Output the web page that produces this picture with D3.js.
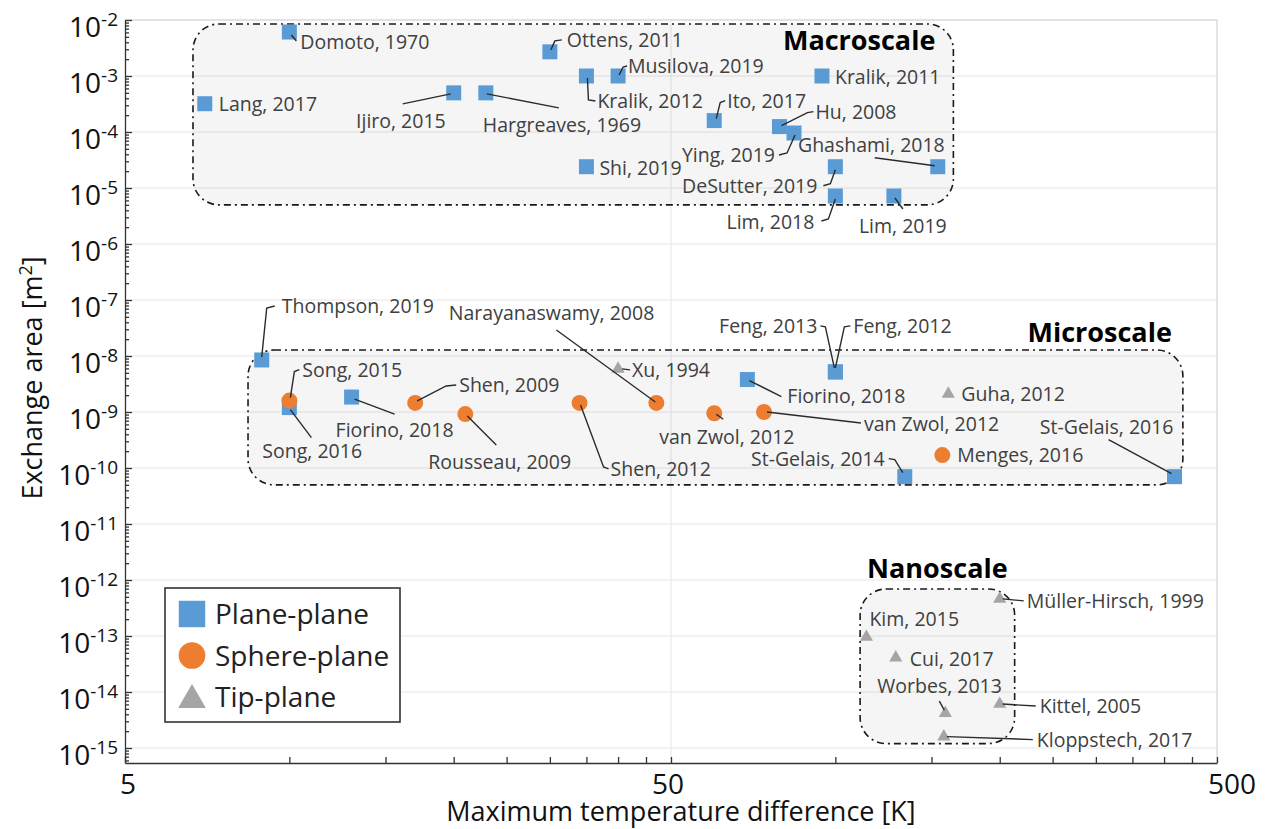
<!DOCTYPE html>
<html>
<head>
<meta charset="utf-8">
<script src="https://cdn.jsdelivr.net/npm/d3@7"></script>
<style>
  body { margin: 0; background: #fff; }
  svg { font-family: "Open Sans", sans-serif; }
</style>
</head>
<body>
<div class="container"></div>
<script>
const w = 1270;
const h = 829;

// axis ticks
const xTickLabels = [5, 50, 500];
const xMinorTicks = [10, 15, 20, 25, 30, 35, 40, 45, 100, 150, 200, 250, 300, 350, 400, 450];
const yTickExps = [-2, -3, -4, -5, -6, -7, -8, -9, -10, -11, -12, -13, -14, -15];

// Plane-plane (squares)
const planeNames = ["Domoto, 1970", "Ottens, 2011", "Kralik, 2012", "Musilova, 2019", "Kralik, 2011",
  "Lang, 2017", "Ijiro, 2015", "Hargreaves, 1969", "Ito, 2017", "Hu, 2008", "Ying, 2019", "Shi, 2019",
  "DeSutter, 2019", "Ghashami, 2018", "Lim, 2018", "Lim, 2019",
  "Thompson, 2019", "Song, 2016", "Fiorino, 2018", "Fiorino, 2018", "Feng, 2013", "Feng, 2012",
  "St-Gelais, 2014", "St-Gelais, 2016"];
const planeDT = [10, 30, 35, 40, 94.5, 7, 20, 22.9, 60, 79, 84, 35, 100, 154, 100, 128,
  8.9, 10, 13, 69, 100, 100, 134, 418];
const planeArea = [6.1e-3, 2.7e-3, 1e-3, 1e-3, 1e-3, 3.2e-4, 5e-4, 5e-4, 1.6e-4, 1.25e-4, 9.6e-5, 2.4e-5,
  2.4e-5, 2.4e-5, 7.2e-6, 7.2e-6,
  8.5e-9, 1.2e-9, 1.85e-9, 3.8e-9, 5.2e-9, 5.2e-9, 7e-11, 7e-11];

// Sphere-plane (circles)
const sphereNames = ["Song, 2015", "Shen, 2009", "Rousseau, 2009", "Shen, 2012", "Narayanaswamy, 2008",
  "van Zwol, 2012", "van Zwol, 2012", "Menges, 2016"];
const sphereDT = [10, 17, 21, 34, 47, 60, 74, 157];
const sphereArea = [1.6e-9, 1.45e-9, 9.2e-10, 1.45e-9, 1.45e-9, 9.5e-10, 1e-9, 1.7e-10];

// Tip-plane (triangles)
const tipNames = ["Xu, 1994", "Guha, 2012", "Müller-Hirsch, 1999", "Kim, 2015", "Cui, 2017",
  "Worbes, 2013", "Kittel, 2005", "Kloppstech, 2017"];
const tipDT = [40, 161, 200, 114, 129, 159, 200, 158];
const tipArea = [5.9e-9, 2.1e-9, 4.6e-13, 9.6e-14, 4.1e-14, 4.2e-15, 6.1e-15, 1.6e-15];

// scale regions
const groupNames = ["Macroscale", "Microscale", "Nanoscale"];
const groupDT = [[6.66, 164.5], [8.4, 433], [111, 213]];
const groupArea = [[5e-6, 8.5e-3], [5e-11, 1.28e-8], [1.2e-15, 6.9e-13]];

// label placement: [dx, dy, anchor, leader points relative to marker]
const planeLabels = [
  [11, 10, "start", [[2, 3], [7, 9]]],
  [17, -12, "start", [[1, -2], [5, -11], [12, -12]]],
  [11, 25, "start", [[1, 2], [2, 24], [9, 25]]],
  [10, -10, "start", [[1, -1], [5, -9], [9, -10]]],
  [13, 1, "start", null],
  [14, 0, "start", null],
  [-8, 28, "end", [[-3, 1], [-51, 11]]],
  [-3, 32, "start", [[1, 1], [73, 15]]],
  [13, -20, "start", [[2, -2], [6, -18], [11, -20]]],
  [36, -15, "start", [[2, -1], [28, -14], [34, -15]]],
  [-19, 22, "end", [[1, 2], [-7, 20], [-15, 22]]],
  [13, 1, "start", null],
  [-18, 19, "end", [[0, 3], [-5, 17], [-12, 19]]],
  [7, -22, "end", [[-3, -1], [-63, -9]]],
  [-21, 26, "end", [[0, 3], [-7, 23], [-14, 25]]],
  [-35, 30, "start", [[1, 2], [9, 13]]],
  [20, -54, "start", [[0, -3], [5, -52], [13, -54]]],
  [-27, 43, "start", [[1, 2], [22, 30]]],
  [-16, 33, "start", [[3, 2], [43, 17]]],
  [40, 16, "start", [[2, 1], [34, 17]]],
  [-18, -46, "end", [[-1, -4], [-10, -45], [-15, -46]]],
  [18, -46, "start", [[0, -4], [9, -45], [15, -46]]],
  [-20, -18, "end", [[-2, -4], [-10, -17], [-16, -18]]],
  [-1, -50, "end", [[-3, -3], [-66, -37]]]
];
const sphereLabels = [
  [13, -31, "start", [[1, -3], [5, -29], [10, -31]]],
  [44, -18, "start", [[2, -2], [31, -17], [41, -18]]],
  [-37, 48, "start", [[2, 2], [31, 31]]],
  [31, 66, "start", [[1, 2], [24, 64], [29, 66]]],
  [-2, -90, "end", [[-1, -1], [-100, -73]]],
  [-55, 24, "start", [[2, 1], [9, 6]]],
  [100, 12, "start", [[3, 0], [97, 11]]],
  [15, 0, "start", null]
];
const tipLabels = [
  [14, 1, "start", [[4, 0], [12, 1]]],
  [13, 0, "start", null],
  [27, 2, "start", [[3, 0], [24, 2]]],
  [3, -18, "start", null],
  [14, 1, "start", null],
  [-68, -27, "start", [[-1, -3], [-6, -12]]],
  [40, 2, "start", [[3, 0], [36, 2]]],
  [93, 3, "start", [[3, 0], [89, 3]]]
];

const colors = { plane: "#5b9bd5", sphere: "#ed7d31", tip: "#a5a5a5" };

const x = d3.scaleLog().domain([5, 500]).range([125, 1217]);
const y = d3.scaleLog().domain([5.4e-16, 1e-2]).range([763, 20]);

const svg = d3.select('.container').append('svg')
  .attr('width', w)
  .attr('height', h);

// grid
const grid = svg.append('g').attr('class', 'grid');
grid.selectAll('line.h')
  .data(yTickExps.map(e => Math.pow(10, e)))
  .enter().append('line')
    .attr('x1', x.range()[0]).attr('x2', x.range()[1])
    .attr('y1', d => y(d)).attr('y2', d => y(d))
    .attr('stroke', '#e6e6e6').attr('stroke-width', 1);
grid.append('line')
  .attr('x1', x(50)).attr('x2', x(50))
  .attr('y1', y.range()[0]).attr('y2', y.range()[1])
  .attr('stroke', '#e6e6e6');
grid.append('path')
  .attr('d', `M${x.range()[0]},${y.range()[1]}H${x.range()[1]}V${y.range()[0]}`)
  .attr('fill', 'none').attr('stroke', '#d4d4d4').attr('stroke-width', 1.2);

// group boxes
const groups = groupNames.map((name, i) => ({ name, dt: groupDT[i], area: groupArea[i] }));
const gBox = svg.append('g').attr('class', 'groups');
gBox.selectAll('rect')
  .data(groups)
  .enter().append('rect')
    .attr('x', d => x(d.dt[0]))
    .attr('y', d => y(d.area[1]))
    .attr('width', d => x(d.dt[1]) - x(d.dt[0]))
    .attr('height', d => y(d.area[0]) - y(d.area[1]))
    .attr('rx', 26)
    .attr('fill', 'rgba(0,0,0,0.04)')
    .attr('stroke', '#1a1a1a')
    .attr('stroke-width', 1.6)
    .attr('stroke-dasharray', '7,4,2,4');

const groupTitleLayout = [
  { dx: -18, dy: 26, anchor: "end", ref: "right" },
  { dx: -11, dy: -8, anchor: "end", ref: "right" },
  { dx: 0, dy: -11, anchor: "middle", ref: "mid" }
];
gBox.selectAll('text')
  .data(groups)
  .enter().append('text')
    .attr('x', (d, i) => {
      const l = groupTitleLayout[i];
      const xr = l.ref === "right" ? x(d.dt[1]) : (x(d.dt[0]) + x(d.dt[1])) / 2;
      return xr + l.dx;
    })
    .attr('y', (d, i) => y(d.area[1]) + groupTitleLayout[i].dy)
    .attr('text-anchor', (d, i) => groupTitleLayout[i].anchor)
    .attr('font-size', 27)
    .attr('font-weight', 700)
    .attr('fill', '#000')
    .text(d => d.name);

// series
function series(names, dt, area, labels, type) {
  return names.map((name, i) => ({
    name, dt: dt[i], area: area[i], type,
    dx: labels[i][0], dy: labels[i][1], anchor: labels[i][2], leader: labels[i][3]
  }));
}
const points = [].concat(
  series(planeNames, planeDT, planeArea, planeLabels, "plane"),
  series(sphereNames, sphereDT, sphereArea, sphereLabels, "sphere"),
  series(tipNames, tipDT, tipArea, tipLabels, "tip")
);

const symbolOf = {
  plane: d3.symbol().type(d3.symbolSquare).size(225),
  sphere: d3.symbol().type(d3.symbolCircle).size(200),
  tip: d3.symbol().type(d3.symbolTriangle).size(75)
};

const marks = svg.append('g').attr('class', 'marks');
const leaders = svg.append('g').attr('class', 'leaders');
const labels = svg.append('g').attr('class', 'labels');

marks.selectAll('path')
  .data(points)
  .enter().append('path')
    .attr('transform', d => `translate(${x(d.dt)},${y(d.area)})`)
    .attr('d', d => symbolOf[d.type]())
    .attr('fill', d => colors[d.type]);

// leader lines sit above the markers
leaders.selectAll('path')
  .data(points.filter(d => d.leader))
  .enter().append('path')
    .attr('d', d => {
      const px = x(d.dt), py = y(d.area);
      return d3.line()(d.leader.map(p => [px + p[0], py + p[1]]));
    })
    .attr('fill', 'none')
    .attr('stroke', '#2b2b2b')
    .attr('stroke-width', 1.4);

labels.selectAll('text')
  .data(points)
  .enter().append('text')
    .attr('x', d => x(d.dt) + d.dx)
    .attr('y', d => y(d.area) + d.dy + 7)
    .attr('text-anchor', d => d.anchor)
    .attr('font-size', 19.5)
    .attr('fill', '#404040')
    .text(d => d.name);

// axes
const axisColor = '#333';
const yMajor = yTickExps.map(e => Math.pow(10, e));
const yMinor = [];
d3.range(-16, -2).forEach(e => {
  for (let k = 2; k <= 9; k++) {
    const v = k * Math.pow(10, e);
    if (v >= y.domain()[0] && v <= y.domain()[1]) yMinor.push(v);
  }
});

const yAxisG = svg.append('g')
  .attr('transform', `translate(${x.range()[0]},0)`);
yAxisG.append('g')
  .call(d3.axisLeft(y).tickValues(yMinor).tickSize(-4).tickSizeOuter(0).tickFormat(''))
  .call(g => g.select('.domain').remove());
yAxisG.append('g')
  .call(d3.axisLeft(y).tickValues(yMajor).tickSize(-7).tickSizeOuter(0).tickFormat(''))
  .call(g => g.selectAll('.tick').append('text')
    .attr('x', -7)
    .attr('y', 16)
    .attr('text-anchor', 'end')
    .attr('fill', '#111')
    .attr('font-size', 28)
    .attr('font-family', '"Open Sans", sans-serif')
    .each(function(d) {
      const t = d3.select(this);
      t.append('tspan').text('10');
      t.append('tspan').attr('dy', -11).attr('font-size', 19).text(Math.round(Math.log10(d)));
    }));
yAxisG.selectAll('line, path').attr('stroke', axisColor).attr('stroke-width', 1.3);

const xAxisG = svg.append('g')
  .attr('transform', `translate(0,${y.range()[0]})`);
xAxisG.append('g')
  .call(d3.axisBottom(x).tickValues(xMinorTicks.concat(xTickLabels)).tickSize(-6).tickSizeOuter(0).tickFormat(''));
xAxisG.selectAll('line, path').attr('stroke', axisColor).attr('stroke-width', 1.3);
xAxisG.selectAll('text.xl')
  .data(xTickLabels)
  .enter().append('text')
    .attr('class', 'xl')
    .attr('x', (d, i) => x(d) + [3, -3, 15][i])
    .attr('y', 31)
    .attr('text-anchor', 'middle')
    .attr('font-size', 28)
    .attr('fill', '#111')
    .text(d => d);

// axis titles
svg.append('text')
  .attr('x', 681)
  .attr('y', 821)
  .attr('text-anchor', 'middle')
  .attr('font-size', 27)
  .attr('fill', '#111')
  .text('Maximum temperature difference [K]');

svg.append('text')
  .attr('transform', 'translate(42,378) rotate(-90)')
  .attr('text-anchor', 'middle')
  .attr('font-size', 27)
  .attr('fill', '#111')
  .call(t => {
    t.append('tspan').text('Exchange area [m');
    t.append('tspan').attr('dy', -10).attr('font-size', 18).text('2');
    t.append('tspan').attr('dy', 10).text(']');
  });

// legend
const legendItems = ["Plane-plane", "Sphere-plane", "Tip-plane"];
const legendTypes = ["plane", "sphere", "tip"];
const legend = svg.append('g').attr('transform', 'translate(165,588)');
legend.append('rect')
  .attr('width', 235).attr('height', 134)
  .attr('fill', '#fff').attr('stroke', '#333').attr('stroke-width', 1.6);
const legendSym = {
  plane: d3.symbol().type(d3.symbolSquare).size(700),
  sphere: d3.symbol().type(d3.symbolCircle).size(560),
  tip: d3.symbol().type(d3.symbolTriangle).size(330)
};
const li = legend.selectAll('g.item')
  .data(legendItems)
  .enter().append('g')
    .attr('class', 'item')
    .attr('transform', (d, i) => `translate(27,${26 + i * 41.5})`);
li.append('path')
  .attr('d', (d, i) => legendSym[legendTypes[i]]())
  .attr('transform', (d, i) => legendTypes[i] === 'tip' ? 'translate(0,3)' : null)
  .attr('fill', (d, i) => colors[legendTypes[i]]);
li.append('text')
  .attr('x', 23)
  .attr('y', 10)
  .attr('font-size', 28)
  .attr('fill', '#222')
  .text(d => d);
</script>
</body>
</html>
